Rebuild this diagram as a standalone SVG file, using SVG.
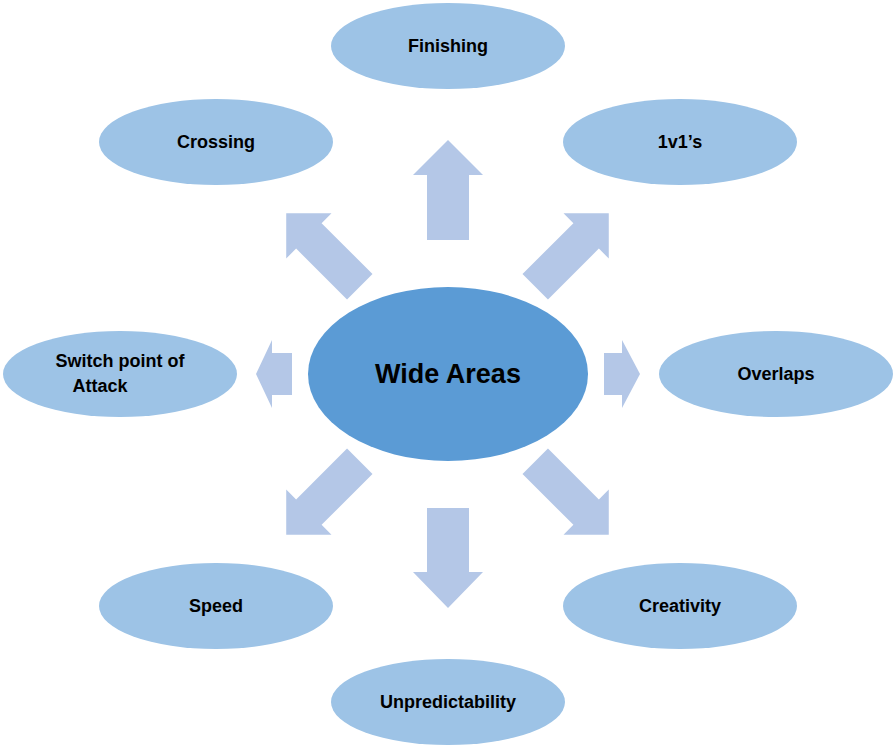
<svg xmlns="http://www.w3.org/2000/svg" width="895" height="748" viewBox="0 0 895 748">
<style>
.n{fill:#9DC3E6}
.c{fill:#5B9BD5}
.t{font-family:"Liberation Sans",Arial,sans-serif;font-weight:bold;font-size:18px;fill:#000;text-anchor:middle;dominant-baseline:central}
.a{fill:#B4C7E7}
</style>
<defs>
<path id="da" d="M0,-52 L32,-20 L18,-20 L18,52 L-18,52 L-18,-20 L-32,-20 Z"/>
</defs>
<rect width="895" height="748" fill="#fff"/>
<g id="connectors">
<path class="a" d="M448,140 L483,175 L469,175 L469,240 L427,240 L427,175 L413,175 Z"/>
<path class="a" d="M448,608 L483,572 L469,572 L469,508 L427,508 L427,572 L413,572 Z"/>
<path class="a" d="M256,374 L272,340 L272,353 L292,353 L292,395 L272,395 L272,408 Z"/>
<path class="a" d="M640,374 L622,340 L622,353 L604,353 L604,395 L622,395 L622,408 Z"/>
<use href="#da" class="a" transform="translate(323,250) rotate(-45)"/>
<use href="#da" class="a" transform="translate(572,250) rotate(45)"/>
<use href="#da" class="a" transform="translate(323,498) rotate(-135)"/>
<use href="#da" class="a" transform="translate(572,498) rotate(135)"/>
</g>
<g id="center"><ellipse class="c" cx="448" cy="374" rx="140" ry="87"/><text class="t" x="448" y="374" style="font-size:27px">Wide Areas</text></g>
<g id="finishing"><ellipse class="n" cx="448" cy="46" rx="117" ry="43"/><text class="t" x="448" y="46">Finishing</text></g>
<g id="crossing"><ellipse class="n" cx="216" cy="142" rx="117" ry="43"/><text class="t" x="216" y="142">Crossing</text></g>
<g id="onevone"><ellipse class="n" cx="680" cy="142" rx="117" ry="43"/><text class="t" x="680" y="142">1v1’s</text></g>
<g id="switch"><ellipse class="n" cx="120" cy="374" rx="117" ry="43"/><text class="t" x="120" y="361">Switch point of</text><text class="t" x="100" y="386">Attack</text></g>
<g id="overlaps"><ellipse class="n" cx="776" cy="374" rx="117" ry="43"/><text class="t" x="776" y="374">Overlaps</text></g>
<g id="speed"><ellipse class="n" cx="216" cy="606" rx="117" ry="43"/><text class="t" x="216" y="606">Speed</text></g>
<g id="creativity"><ellipse class="n" cx="680" cy="606" rx="117" ry="43"/><text class="t" x="680" y="606">Creativity</text></g>
<g id="unpredictability"><ellipse class="n" cx="448" cy="702" rx="117" ry="43"/><text class="t" x="448" y="702">Unpredictability</text></g>
</svg>
